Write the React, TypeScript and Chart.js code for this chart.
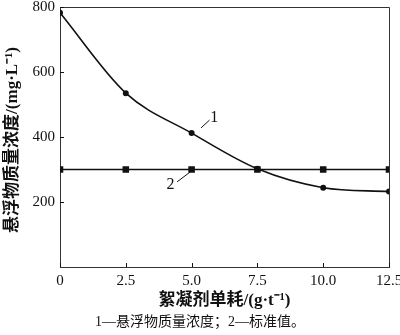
import React, { useEffect, useRef } from "react";
import { Chart, registerables } from "chart.js";

Chart.register(...registerables);

const dosage = [0, 2.5, 5.0, 7.5, 10.0, 12.5];
const suspended = [782, 535, 412, 302, 244, 232];
const standard = [300, 300, 300, 300, 300, 300];
const xTicks = [0, 2.5, 5.0, 7.5, 10.0, 12.5];
const yTicks = [200, 400, 600, 800];
const yTitle = "悬浮物质量浓度/(mg·L⁻¹)";
const xTitle = "絮凝剂单耗/(g·t⁻¹)";
const caption = "1—悬浮物质量浓度；2—标准值。";

const serif = "'Liberation Serif', 'Times New Roman', 'Noto Sans CJK SC', serif";
const ink = "#111";

const decorPlugin = {
  id: "decor",
  afterDraw(chart: any) {
    const { ctx, chartArea } = chart;
    const xs = chart.scales.x;
    const ys = chart.scales.y;
    ctx.save();
    ctx.strokeStyle = "#333";
    ctx.lineWidth = 1;
    // frame top/right
    ctx.beginPath();
    ctx.moveTo(chartArea.left, chartArea.top + 0.5);
    ctx.lineTo(chartArea.right + 0.5, chartArea.top + 0.5);
    ctx.lineTo(chartArea.right + 0.5, chartArea.bottom);
    ctx.stroke();
    // inward ticks
    ctx.strokeStyle = ink;
    ctx.beginPath();
    xTicks.forEach((v) => {
      const px = Math.round(xs.getPixelForValue(v)) + 0.5;
      ctx.moveTo(px, chartArea.bottom);
      ctx.lineTo(px, chartArea.bottom - 4);
    });
    yTicks.forEach((v) => {
      const py = Math.round(ys.getPixelForValue(v)) + 0.5;
      ctx.moveTo(chartArea.left, py);
      ctx.lineTo(chartArea.left + 4, py);
    });
    ctx.stroke();
    // series annotations
    ctx.beginPath();
    ctx.moveTo(xs.getPixelForValue(5.36), ys.getPixelForValue(428));
    ctx.lineTo(xs.getPixelForValue(5.68), ys.getPixelForValue(452));
    ctx.moveTo(xs.getPixelForValue(4.45), ys.getPixelForValue(262));
    ctx.lineTo(xs.getPixelForValue(4.94), ys.getPixelForValue(292));
    ctx.stroke();
    ctx.fillStyle = ink;
    ctx.font = "16px " + serif;
    ctx.textAlign = "center";
    ctx.textBaseline = "middle";
    ctx.fillText("1", xs.getPixelForValue(5.86), ys.getPixelForValue(460));
    ctx.fillText("2", xs.getPixelForValue(4.2), ys.getPixelForValue(252));
    // y title
    ctx.save();
    ctx.translate(13, 140);
    ctx.rotate(-Math.PI / 2);
    ctx.font = "bold 17px " + serif;
    ctx.fillText(yTitle, 0, 0);
    ctx.restore();
    // caption
    ctx.font = "14px " + serif;
    ctx.fillText(caption, 200, 322);
    ctx.restore();
  },
};

export default function App() {
  const ref = useRef<HTMLCanvasElement>(null);
  useEffect(() => {
    if (!ref.current) return;
    const chart = new Chart(ref.current, {
      type: "line",
      data: {
        datasets: [
          {
            label: "1",
            data: dosage.map((x, i) => ({ x, y: suspended[i] })),
            borderColor: ink,
            backgroundColor: ink,
            borderWidth: 1.6,
            pointStyle: "circle",
            pointRadius: 2.2,
            cubicInterpolationMode: "monotone",
          },
          {
            label: "2",
            data: dosage.map((x, i) => ({ x, y: standard[i] })),
            borderColor: ink,
            backgroundColor: ink,
            borderWidth: 1.6,
            pointStyle: "rect",
            pointRadius: 3.5,
          },
        ],
      },
      options: {
        responsive: false,
        animation: false,
        layout: { padding: { top: 7, right: 11, left: 0, bottom: 0 } },
        plugins: { legend: { display: false }, tooltip: { enabled: false } },
        scales: {
          x: {
            type: "linear",
            min: 0,
            max: 12.5,
            afterBuildTicks: (s: any) => {
              s.ticks = xTicks.map((v) => ({ value: v }));
            },
            afterFit: (s: any) => {
              s.height = 68;
              s.paddingRight = 0;
              s.paddingLeft = 0;
            },
            grid: { display: false, drawTicks: false },
            border: { display: true, color: "#333", width: 1 },
            ticks: {
              padding: 5,
              color: ink,
              font: { family: serif, size: 15 },
              maxRotation: 0,
              callback: (v: any) => (v === 0 ? "0" : Number(v).toFixed(1)),
            },
            title: {
              display: true,
              text: xTitle,
              color: ink,
              font: { family: serif, size: 17, weight: "bold" },
              padding: { top: 0, bottom: 24 },
            },
          },
          y: {
            type: "linear",
            min: 0,
            max: 800,
            afterBuildTicks: (s: any) => {
              s.ticks = yTicks.map((v) => ({ value: v }));
            },
            afterFit: (s: any) => {
              s.width = 60;
              s.paddingTop = 0;
              s.paddingBottom = 0;
            },
            grid: { display: false, drawTicks: false },
            border: { display: true, color: "#333", width: 1 },
            ticks: {
              padding: 5,
              color: ink,
              font: { family: serif, size: 15 },
            },
            title: { display: false },
          },
        },
      },
      plugins: [decorPlugin],
    } as any);
    return () => chart.destroy();
  }, []);
  return (
    <div style={{ position: "fixed", left: 0, top: 0, width: 400, height: 335, background: "#fff" }}>
      <canvas ref={ref} width={400} height={335} />
    </div>
  );
}
